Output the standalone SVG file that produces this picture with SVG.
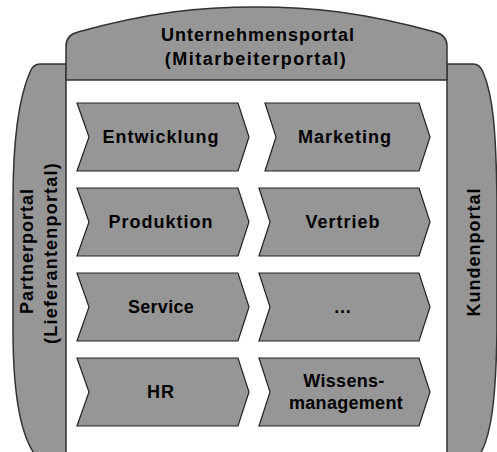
<svg xmlns="http://www.w3.org/2000/svg" width="497" height="452" viewBox="0 0 497 452">
<style>
.portal{fill:#969696;stroke:#333;stroke-width:1.5;stroke-linejoin:round}
.chev{fill:#969696;stroke:#222;stroke-width:1.2;stroke-linejoin:miter}
text{font-family:"Liberation Sans",Arial,sans-serif;font-weight:bold;font-size:18px;fill:#000;text-anchor:middle;letter-spacing:1px}
.tight{letter-spacing:0.3px}
</style>
<rect width="497" height="452" fill="#fff"/>
<g id="partnerportal">
<path class="portal" d="M66,64 V456 H36 C22,438 13,400 13,330 V200 C13,130 20,95 30,72 C32,67 35,64 40,64 Z"/>
<text transform="translate(33,251) rotate(-90)">Partnerportal</text>
<text transform="translate(57,253) rotate(-90)" style="letter-spacing:1.2px">(Lieferantenportal)</text>
</g>
<g id="kundenportal">
<path class="portal" d="M447,64 V456 H479 C491,438 496,400 497,330 V200 C496,130 493,95 483,72 C481,67 478,64 473,64 Z"/>
<text transform="translate(480,252) rotate(-90)">Kundenportal</text>
</g>
<g id="unternehmensportal">
<path class="portal" d="M66,80 V46 C66,38 70,34 78,32 C150,12 200,7 256,7 C312,7 362,12 435,32 C443,34 447,38 447,46 V80 Z"/>
<text x="258" y="41">Unternehmensportal</text>
<text x="256" y="65" style="letter-spacing:1.5px">(Mitarbeiterportal)</text>
</g>
<g id="entwicklung">
<path class="chev" d="M77,103 H238 L249,137 L238,171 H77 L89,137 Z"/>
<text x="161" y="143">Entwicklung</text>
</g>
<g id="produktion">
<path class="chev" d="M77,188 H238 L249,222 L238,256 H77 L89,222 Z"/>
<text x="161" y="228">Produktion</text>
</g>
<g id="service">
<path class="chev" d="M77,273 H238 L249,307 L238,341 H77 L89,307 Z"/>
<text class="tight" x="161" y="313">Service</text>
</g>
<g id="hr">
<path class="chev" d="M77,358 H238 L249,392 L238,426 H77 L89,392 Z"/>
<text x="161" y="398">HR</text>
</g>
<g id="marketing">
<path class="chev" d="M265,103 H419 L430,137 L419,171 H265 L276,137 Z"/>
<text x="345" y="143">Marketing</text>
</g>
<g id="vertrieb">
<path class="chev" d="M259,188 H419 L430,222 L419,256 H259 L270,222 Z"/>
<text x="343" y="228">Vertrieb</text>
</g>
<g id="weitere">
<path class="chev" d="M259,273 H419 L430,307 L419,341 H259 L270,307 Z"/>
<text x="343" y="313">…</text>
</g>
<g id="wissensmanagement">
<path class="chev" d="M259,358 H419 L430,392 L419,426 H259 L270,392 Z"/>
<text class="tight" x="344" y="387">Wissens-</text>
<text class="tight" x="346" y="409">management</text>
</g>
<g id="connectors"/>
</svg>
